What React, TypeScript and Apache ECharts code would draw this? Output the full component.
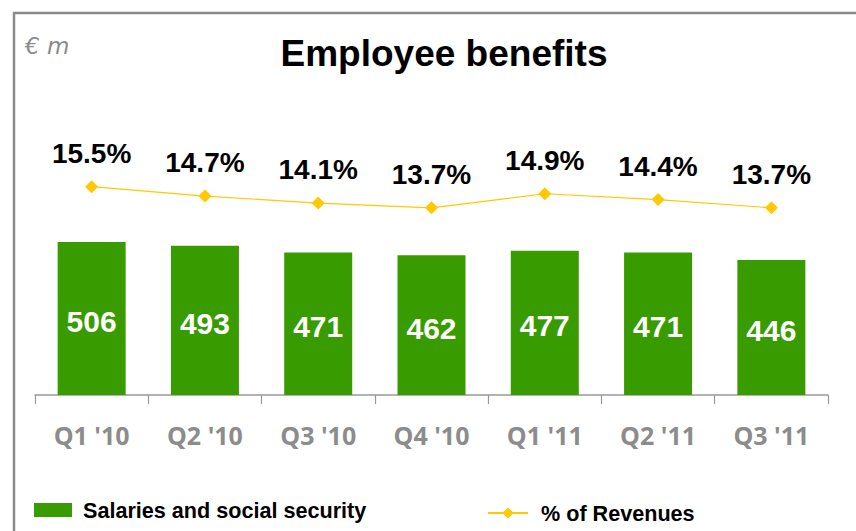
import React, { useEffect, useRef } from "react";
import * as echarts from "echarts";

const categories = ["Q1 '10", "Q2 '10", "Q3 '10", "Q4 '10", "Q1 '11", "Q2 '11", "Q3 '11"];
const salaries = [506, 493, 471, 462, 477, 471, 446];
const pctRevenues = [15.5, 14.7, 14.1, 13.7, 14.9, 14.4, 13.7];
const barName = "Salaries and social security";
const lineName = "% of Revenues";

export default function App() {
  const ref = useRef<HTMLDivElement>(null);
  useEffect(() => {
    const chart = echarts.init(ref.current!, null, { renderer: "svg" });
    chart.setOption({
      animation: false,
      backgroundColor: "#ffffff",
      title: {
        text: "Employee benefits",
        left: 439,
        textAlign: "center",
        top: 30,
        textStyle: { fontFamily: "Liberation Sans, Arial", fontWeight: "bold", fontSize: 37, color: "#000" },
      },
      graphic: [
        {
          type: "polyline",
          shape: { points: [[14, 531], [14, 13], [856, 13]] },
          style: { stroke: "#8a8a8a", lineWidth: 2.5, fill: "none" },
        },
        {
          type: "text",
          left: 25,
          top: 34,
          style: { text: "€ m", fontFamily: "DejaVu Sans", fontStyle: "italic", fontSize: 23, fill: "#8c8c8c" },
        },
      ],
      legend: [
        {
          data: [barName],
          left: 29,
          top: 494,
          itemWidth: 38,
          itemHeight: 14,
          icon: "rect",
          textStyle: { fontFamily: "Liberation Sans, Arial", fontWeight: "bold", fontSize: 21.6, color: "#000", padding: [0, 0, 0, 6] },
        },
        {
          data: [lineName],
          left: 482,
          top: 497,
          itemWidth: 40,
          itemHeight: 14,
          textStyle: { fontFamily: "Liberation Sans, Arial", fontWeight: "bold", fontSize: 21.6, color: "#000", padding: [0, 0, 0, 8] },
        },
      ],
      grid: { left: 35, right: 28, top: 100, bottom: 136 },
      xAxis: {
        type: "category",
        data: categories,
        axisLine: { show: true, lineStyle: { color: "#999", width: 1.5 } },
        axisTick: { show: true, length: 9, lineStyle: { color: "#999", width: 1.2 } },
        axisLabel: {
          margin: 27,
          fontFamily: "Open Sans",
          fontWeight: "bold",
          fontSize: 25,
          color: "#8c8c8c",
        },
      },
      yAxis: [
        { type: "value", min: 0, max: 975, show: false, splitLine: { show: false } },
        { type: "value", min: -2.28, max: 22.9, show: false, splitLine: { show: false } },
      ],
      series: [
        {
          name: barName,
          type: "bar",
          data: salaries,
          barWidth: 68,
          itemStyle: { color: "#389B00" },
          label: {
            show: true,
            position: "inside",
            offset: [0, 3],
            color: "#fff",
            fontFamily: "Liberation Sans, Arial",
            fontWeight: "bold",
            fontSize: 30,
          },
        },
        {
          name: lineName,
          type: "line",
          yAxisIndex: 1,
          data: pctRevenues,
          symbol: "diamond",
          symbolSize: 13,
          itemStyle: { color: "#FFC800" },
          lineStyle: { color: "#FFC800", width: 1.2 },
          label: {
            show: true,
            position: "top",
            distance: 13,
            formatter: (p: any) => p.value.toFixed(1) + "%",
            color: "#000",
            fontFamily: "Liberation Sans, Arial",
            fontWeight: "bold",
            fontSize: 28,
          },
        },
      ],
    });
    return () => chart.dispose();
  }, []);
  return <div ref={ref} style={{ position: "fixed", left: 0, top: 0, width: 856, height: 531 }} />;
}
